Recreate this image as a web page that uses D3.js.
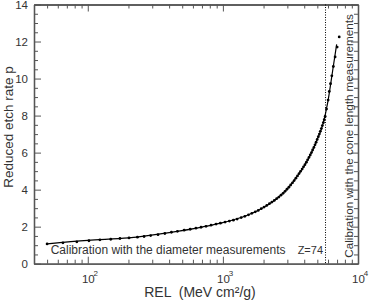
<!DOCTYPE html>
<html>
<head>
<meta charset="utf-8">
<script src="https://cdnjs.cloudflare.com/ajax/libs/d3/7.8.5/d3.min.js"></script>
<style>
  body { margin: 0; background: #fff; }
  svg { display: block; font-family: "Liberation Sans", Arial, sans-serif; }
  .axis path, .axis line { stroke: #555; }
  .axis path { stroke-width: 1.3; }
  .axis line { stroke-width: 1; }
  .axis text, .lbl { fill: #333; }
</style>
</head>
<body>
<svg id="chart" width="370" height="300"></svg>
<script>
// measured points (REL in MeV cm2/g, reduced etch rate p)
var relValues = [50, 65.5, 83, 102, 123, 148, 173, 202, 233, 261, 292, 331, 372, 416, 461, 517, 573, 632, 689, 750,
  817, 890, 958, 1038, 1117, 1196, 1275, 1366, 1453, 1548, 1638, 1736, 1827, 1923, 2017, 2113, 2210, 2305, 2402, 2500,
  2596, 2690, 2789, 2884, 2980, 3078, 3175, 3275, 3370, 3468, 3565, 3663, 3758, 3860, 3953, 4048, 4150, 4240, 4335, 4432,
  4525, 4615, 4715, 4805, 4897, 4990, 5085, 5175, 5263, 5355, 5445, 5543, 5625, 5715, 5850, 6010, 6130, 6260, 6400, 6570,
  6770, 7010, 7260];
var pValues = [1.07, 1.13, 1.18, 1.24, 1.29, 1.32, 1.36, 1.39, 1.43, 1.47, 1.52, 1.57, 1.63, 1.70, 1.75, 1.81, 1.86, 1.92, 1.97, 2.02,
  2.08, 2.14, 2.19, 2.25, 2.30, 2.35, 2.41, 2.49, 2.56, 2.64, 2.72, 2.80, 2.88, 2.97, 3.06, 3.15, 3.24, 3.33, 3.42, 3.51,
  3.60, 3.70, 3.80, 3.91, 4.02, 4.13, 4.25, 4.37, 4.49, 4.62, 4.74, 4.87, 4.99, 5.11, 5.23, 5.35, 5.48, 5.61, 5.74, 5.87,
  6.00, 6.14, 6.28, 6.42, 6.56, 6.71, 6.86, 7.00, 7.15, 7.30, 7.46, 7.62, 7.78, 7.95, 8.35, 8.84, 9.30, 9.72, 10.15, 10.65,
  11.17, 11.70, 12.25];

// fitted curve
var fitRel = [50, 100, 200, 400, 700, 1000, 1500, 2000, 2500, 3000, 3500, 4000, 4500, 5000, 5500, 6000, 6500, 6950];
var fitP = [1.07, 1.26, 1.39, 1.68, 1.98, 2.22, 2.60, 3.04, 3.51, 4.04, 4.66, 5.29, 5.97, 6.72, 7.54, 8.80, 10.45, 11.85];

var xMajor = [100, 1000, 10000];
var xExp = ["2", "3", "4"];
var yMajor = [0, 2, 4, 6, 8, 10, 12, 14];
var zLineRel = 5750;

var svg = d3.select("#chart"),
  margin = {top: 4.5, right: 12, bottom: 36.3, left: 34},
  width = +svg.attr("width") - margin.left - margin.right,
  height = +svg.attr("height") - margin.top - margin.bottom;

var g = svg.append("g").attr("transform", "translate(" + margin.left + "," + margin.top + ")");

var x = d3.scaleLog().domain([40, 10000]).range([0, width]);
var y = d3.scaleLinear().domain([0, 14]).range([height, 0]);

var xMinor = x.ticks().filter(function(d) { return xMajor.indexOf(d) < 0; });
var yMinor = y.ticks(28).filter(function(d) { return yMajor.indexOf(d) < 0; });

function styleAxis(sel) {
  sel.attr("font-family", null).attr("font-size", null);
}

// minor ticks
g.append("g").attr("class", "axis").attr("transform", "translate(0," + height + ")")
  .call(d3.axisBottom(x).tickValues(xMinor).tickSize(-4).tickSizeOuter(0).tickFormat(""));
g.append("g").attr("class", "axis")
  .call(d3.axisTop(x).tickValues(xMinor).tickSize(-4).tickSizeOuter(0).tickFormat(""));
g.append("g").attr("class", "axis")
  .call(d3.axisLeft(y).tickValues(yMinor).tickSize(-4).tickSizeOuter(0).tickFormat(""));
g.append("g").attr("class", "axis").attr("transform", "translate(" + width + ",0)")
  .call(d3.axisRight(y).tickValues(yMinor).tickSize(-4).tickSizeOuter(0).tickFormat(""));

// major ticks
var xAxisG = g.append("g").attr("class", "axis").attr("transform", "translate(0," + height + ")")
  .call(d3.axisBottom(x).tickValues(xMajor).tickSize(-7).tickSizeOuter(0).tickFormat(""))
  .call(styleAxis);
g.append("g").attr("class", "axis")
  .call(d3.axisTop(x).tickValues(xMajor).tickSize(-7).tickSizeOuter(0).tickFormat(""));
g.append("g").attr("class", "axis")
  .call(d3.axisLeft(y).tickValues(yMajor).tickSize(-7).tickSizeOuter(0).tickPadding(6))
  .call(styleAxis)
  .selectAll("text").attr("font-size", 11.5);
g.append("g").attr("class", "axis").attr("transform", "translate(" + width + ",0)")
  .call(d3.axisRight(y).tickValues(yMajor).tickSize(-7).tickSizeOuter(0).tickFormat(""));

// 10^n labels
xAxisG.selectAll(".tick").each(function(d, i) {
  var t = d3.select(this);
  t.append("text").attr("class", "lbl").attr("y", 19).attr("text-anchor", "middle")
    .attr("font-size", 11.5).text("10");
  t.append("text").attr("class", "lbl").attr("x", 7.5).attr("y", 12.5)
    .attr("font-size", 8).text(xExp[i]);
});

// Z=74 line
g.append("line")
  .attr("x1", x(zLineRel)).attr("x2", x(zLineRel))
  .attr("y1", 0).attr("y2", height)
  .attr("stroke", "#000").attr("stroke-width", 1)
  .attr("stroke-dasharray", "1,1.5");

// fit curve
var line = d3.line()
  .curve(d3.curveMonotoneX)
  .x(function(d) { return x(d[0]); })
  .y(function(d) { return y(d[1]); });

g.append("path")
  .datum(fitRel.map(function(r, i) { return [r, fitP[i]]; }))
  .attr("fill", "none")
  .attr("stroke", "#000")
  .attr("stroke-width", 1.2)
  .attr("d", line);

// points
g.append("g").selectAll("circle")
  .data(relValues.map(function(r, i) { return [r, pValues[i]]; }))
  .enter().append("circle")
  .attr("cx", function(d) { return x(d[0]); })
  .attr("cy", function(d) { return y(d[1]); })
  .attr("r", 1.4)
  .attr("fill", "#000");

// annotations
g.append("text").attr("class", "lbl")
  .attr("x", 16.7).attr("y", 249.8)
  .attr("font-size", 12)
  .text("Calibration with the diameter measurements");

g.append("text").attr("class", "lbl")
  .attr("x", x(zLineRel) - 2.5).attr("y", 249.8)
  .attr("text-anchor", "end")
  .attr("font-size", 11)
  .text("Z=74");

g.append("text").attr("class", "lbl")
  .attr("transform", "translate(" + (width - 5.5) + "," + (height - 6) + ") rotate(-90)")
  .attr("font-size", 11.7)
  .text("Calibration with the cone length measurements");

// axis titles
svg.append("text").attr("class", "lbl")
  .attr("x", 200).attr("y", 297)
  .attr("text-anchor", "middle")
  .attr("font-size", 14)
  .text("REL  (MeV cm\u00b2/g)")
  .style("white-space", "pre");

svg.append("text").attr("class", "lbl")
  .attr("transform", "translate(13,127) rotate(-90)")
  .attr("text-anchor", "middle")
  .attr("font-size", 13.5)
  .text("Reduced etch rate p");
</script>
</body>
</html>
